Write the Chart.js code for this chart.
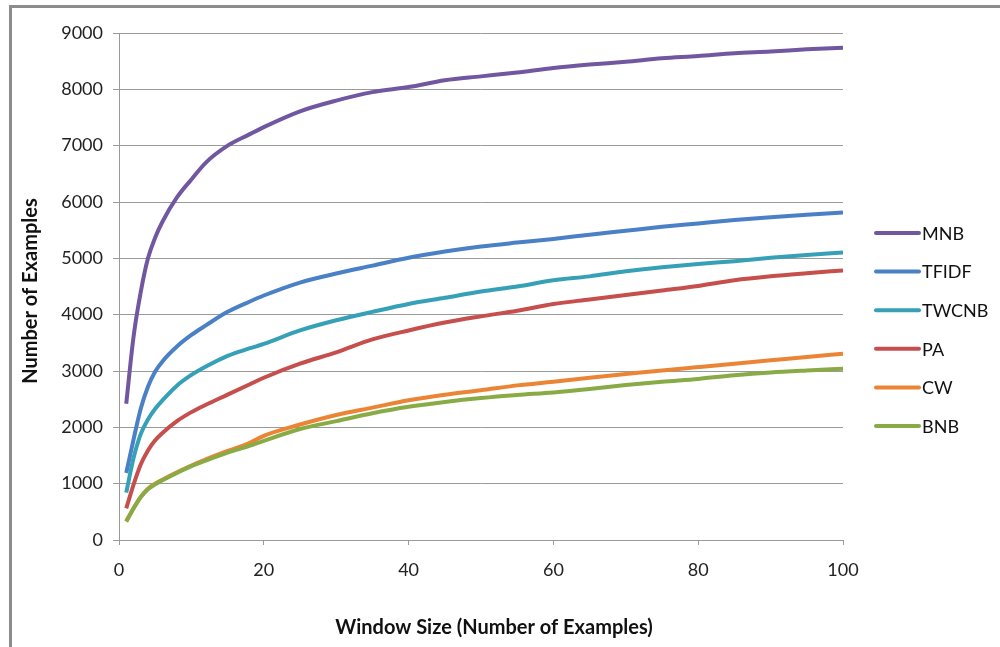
<!DOCTYPE html>
<html>
<head>
<meta charset="utf-8">
<script src="https://cdn.jsdelivr.net/npm/chart.js@4/dist/chart.umd.min.js"></script>
<style>
  html, body { margin: 0; padding: 0; background: #fff; }
  #wrap { position: relative; width: 1000px; height: 647px; overflow: hidden; }
  #frame { position: absolute; left: 9px; top: 5px; width: 1100px; height: 800px;
           border-top: 3px solid #8c8c8c; border-left: 3px solid #8c8c8c; }
  canvas { position: absolute; left: 0; top: 0; }
</style>
</head>
<body>
<div id="wrap">
  <div id="frame"></div>
  <canvas id="c" width="1000" height="647"></canvas>
</div>
<script>
// Window sizes (x) at which each classifier's count is sampled
const windowSizes = [1, 2, 3, 4, 5, 6, 8, 10, 12, 15, 18, 20, 25, 30, 35, 40, 45, 50, 55, 60, 65, 70, 75, 80, 85, 90, 95, 100];

const mnb   = [2420, 3600, 4400, 5000, 5370, 5650, 6080, 6400, 6700, 7000, 7200, 7330, 7610, 7800, 7950, 8040, 8160, 8230, 8300, 8380, 8440, 8490, 8550, 8590, 8640, 8670, 8710, 8740];
const tfidf = [1190, 1780, 2330, 2720, 2990, 3170, 3435, 3640, 3810, 4050, 4230, 4340, 4570, 4730, 4870, 5010, 5120, 5210, 5280, 5345, 5420, 5490, 5560, 5620, 5680, 5730, 5775, 5815];
const twcnb = [840, 1450, 1880, 2140, 2330, 2480, 2740, 2930, 3080, 3270, 3400, 3480, 3720, 3900, 4050, 4190, 4300, 4410, 4500, 4610, 4680, 4770, 4840, 4900, 4950, 5010, 5060, 5105];
const pa    = [560, 980, 1340, 1590, 1770, 1900, 2110, 2270, 2400, 2580, 2760, 2880, 3130, 3330, 3560, 3720, 3860, 3970, 4070, 4190, 4270, 4350, 4430, 4510, 4610, 4680, 4735, 4785];
const cw    = [330, 560, 765, 910, 1000, 1070, 1200, 1320, 1430, 1580, 1720, 1850, 2050, 2220, 2350, 2480, 2580, 2660, 2745, 2810, 2880, 2945, 3010, 3070, 3130, 3190, 3250, 3305];
const bnb   = [330, 560, 760, 900, 990, 1060, 1190, 1310, 1410, 1550, 1670, 1760, 1970, 2110, 2250, 2365, 2450, 2520, 2575, 2620, 2680, 2750, 2810, 2860, 2925, 2975, 3010, 3040];

const seriesNames  = ['MNB', 'TFIDF', 'TWCNB', 'PA', 'CW', 'BNB'];
const seriesValues = [mnb, tfidf, twcnb, pa, cw, bnb];
const seriesColors = ['#7157a0', '#4a80c6', '#36a0b6', '#c64e4c', '#eb8535', '#89ab45'];

const xTitle = 'Window Size (Number of Examples)';
const yTitle = 'Number of Examples';

// Axis titles and the right-hand legend, drawn after the chart
const decor = {
  id: 'decor',
  afterDraw(chart) {
    const ctx = chart.ctx;
    ctx.save();
    ctx.fillStyle = '#111';
    ctx.font = 'bold 20px Lato';
    ctx.textAlign = 'center';
    ctx.textBaseline = 'middle';
    ctx.fillText(xTitle, 494, 628);
    ctx.save();
    ctx.translate(31, 291);
    ctx.rotate(-Math.PI / 2);
    ctx.fillText(yTitle, 0, 0);
    ctx.restore();

    ctx.font = '18px Lato';
    ctx.textAlign = 'left';
    chart.data.datasets.forEach((ds, i) => {
      const y = 233 + i * 38.6;
      ctx.strokeStyle = ds.borderColor;
      ctx.lineWidth = 4;
      ctx.lineCap = 'round';
      ctx.beginPath();
      ctx.moveTo(876, y);
      ctx.lineTo(919, y);
      ctx.stroke();
      ctx.fillStyle = '#111';
      ctx.fillText(ds.label, 922, y + 1);
    });
    ctx.restore();
  }
};

function draw() {
  const datasets = seriesNames.map((name, k) => ({
    label: name,
    data: windowSizes.map((x, i) => ({ x: x, y: seriesValues[k][i] })),
    borderColor: seriesColors[k],
    backgroundColor: seriesColors[k],
    borderWidth: 4,
    pointRadius: 0,
    fill: false,
    cubicInterpolationMode: 'monotone',
    order: seriesNames.length - k
  }));

  new Chart(document.getElementById('c'), {
    type: 'line',
    data: { datasets },
    options: {
      responsive: false,
      animation: false,
      layout: { padding: { left: 0, top: 33, right: 157, bottom: 0 } },
      plugins: { legend: { display: false }, tooltip: { enabled: false } },
      scales: {
        x: {
          type: 'linear',
          min: 0, max: 100,
          ticks: { stepSize: 20, color: '#222', font: { family: 'Lato', size: 18 }, padding: 14,
                   callback: v => String(v) },
          grid: { drawOnChartArea: false, drawTicks: true, tickLength: 5, color: '#9a9a9a' },
          border: { color: '#9a9a9a', width: 1 },
          afterFit(s) { s.height = 107; }
        },
        y: {
          min: 0, max: 9000,
          ticks: { stepSize: 1000, color: '#222', font: { family: 'Lato', size: 18 }, padding: 10,
                   callback: v => String(v) },
          grid: { color: '#9a9a9a', tickLength: 6 },
          border: { color: '#9a9a9a', width: 1 },
          afterFit(s) { s.width = 119; }
        }
      }
    },
    plugins: [decor]
  });
}

Promise.all([
  document.fonts.load('18px Lato'),
  document.fonts.load('bold 20px Lato')
]).then(draw, draw);
</script>
</body>
</html>
